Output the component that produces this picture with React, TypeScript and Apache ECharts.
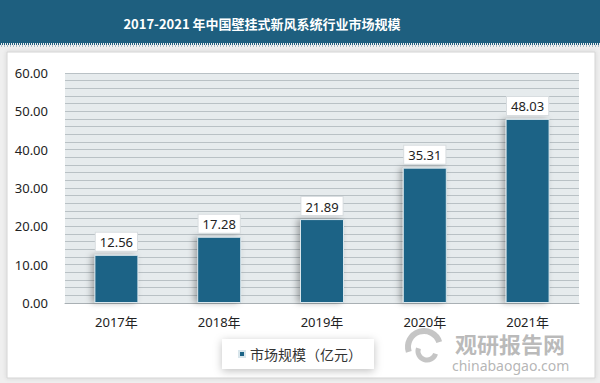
import React, { useEffect, useRef } from "react";
import * as echarts from "echarts";

const categories = ["2017年", "2018年", "2019年", "2020年", "2021年"];
const marketSize = [12.56, 17.28, 21.89, 35.31, 48.03];
const seriesName = "市场规模（亿元）";
const titleText = "2017-2021 年中国壁挂式新风系统行业市场规模";
const yMin = 0;
const yMax = 60;
const yInterval = 10;

const FONT = "'Noto Sans', 'Noto Sans CJK SC', sans-serif";
const CJK = "'Noto Sans CJK SC', 'Noto Sans', sans-serif";

export default function App() {
  const ref = useRef<HTMLDivElement>(null);
  useEffect(() => {
    document.body.style.margin = "0";
    if (!ref.current) return;
    const chart = echarts.init(ref.current, undefined, { renderer: "svg" });
    chart.setOption({
      animation: false,
      backgroundColor: "#efefef",
      graphic: [
        {
          type: "rect",
          z: -10,
          shape: { x: 7, y: 52, width: 588, height: 326 },
          style: { fill: "#ffffff", stroke: "#d4d4d4", lineWidth: 1, shadowColor: "rgba(0,0,0,0.12)", shadowBlur: 4 },
        },
        {
          type: "rect",
          z: 5,
          shape: { x: 0, y: 0, width: 600, height: 43 },
          style: { fill: "#1e5f7f" },
        },
        {
          type: "line",
          z: 5,
          shape: { x1: 0, y1: 44, x2: 600, y2: 44 },
          style: { stroke: "#1e5f7f", lineWidth: 2, lineDash: [1, 1] },
        },
        {
          type: "line",
          z: 5,
          shape: { x1: 1, y1: 46, x2: 600, y2: 46 },
          style: { stroke: "#6b93a8", lineWidth: 1, lineDash: [1, 2] },
        },
        {
          type: "text",
          z: 6,
          x: 262,
          y: 23,
          style: {
            text: titleText,
            fill: "#ffffff",
            font: `bold 13px ${CJK}`,
            textAlign: "center",
            textVerticalAlign: "middle",
          },
        },
        {
          type: "arc",
          z: 6,
          shape: { cx: 424, cy: 347, r: 16, startAngle: Math.PI * 0.9, endAngle: Math.PI * 1.9 },
          style: { stroke: "rgba(150,150,150,0.55)", lineWidth: 6, fill: "none" },
        },
        {
          type: "arc",
          z: 6,
          shape: { cx: 427, cy: 351, r: 9, startAngle: Math.PI * 0.1, endAngle: Math.PI * 1.1 },
          style: { stroke: "rgba(150,150,150,0.55)", lineWidth: 5, fill: "none" },
        },
        {
          type: "text",
          z: 6,
          x: 455,
          y: 343,
          style: {
            text: "观研报告网",
            fill: "rgba(140,140,140,0.6)",
            font: `bold 22px ${CJK}`,
            textVerticalAlign: "middle",
          },
        },
        {
          type: "text",
          z: 6,
          x: 452,
          y: 365,
          style: {
            text: "chinabaogao.com",
            fill: "rgba(140,140,140,0.65)",
            font: `14px ${FONT}`,
            textVerticalAlign: "middle",
          },
        },
      ],
      grid: {
        left: 65,
        right: 21,
        top: 73,
        bottom: 80,
        show: true,
        backgroundColor: "#e6ebed",
        borderWidth: 0,
      },
      legend: {
        left: 222,
        top: 339,
        icon: "rect",
        itemWidth: 6,
        itemHeight: 6,
        itemGap: 6,
        padding: [8, 12, 8, 16],
        backgroundColor: "#ffffff",
        shadowColor: "rgba(0,0,0,0.25)",
        shadowBlur: 8,
        shadowOffsetY: 2,
        textStyle: { fontSize: 14, color: "#333", fontFamily: CJK },
        data: [seriesName],
      },
      xAxis: {
        type: "category",
        data: categories,
        axisLine: { show: true, lineStyle: { color: "#a9b0b4", width: 1 } },
        axisTick: { show: false },
        axisLabel: { color: "#222", fontSize: 13, margin: 12, fontFamily: FONT },
      },
      yAxis: {
        type: "value",
        min: yMin,
        max: yMax,
        interval: yInterval,
        axisLine: { show: false },
        axisTick: { show: false },
        axisLabel: {
          color: "#222",
          fontSize: 13,
          margin: 17,
          fontFamily: FONT,
          formatter: (v: number) => v.toFixed(2),
        },
        splitLine: { show: true, lineStyle: { color: "#b9c1c5", width: 1 } },
        minorTick: { show: false, splitNumber: 5 },
        minorSplitLine: { show: true, lineStyle: { color: "#b9c1c5", width: 1 } },
      },
      series: [
        {
          name: seriesName,
          type: "bar",
          data: marketSize,
          barWidth: 44,
          itemStyle: {
            color: "#1b6386",
            borderColor: "#d9e6ec",
            borderWidth: 1,
            shadowColor: "rgba(0,0,0,0.3)",
            shadowBlur: 6,
            shadowOffsetX: -3,
          },
          label: {
            show: true,
            position: "top",
            distance: 4,
            color: "#222",
            fontSize: 13,
            fontFamily: FONT,
            backgroundColor: "#ffffff",
            borderColor: "#d8dde0",
            borderWidth: 1,
            padding: [3, 4, 2, 4],
            formatter: (p: any) => Number(p.value).toFixed(2),
          },
        },
      ],
    });
    return () => chart.dispose();
  }, []);
  return <div ref={ref} style={{ width: 600, height: 383 }} />;
}
